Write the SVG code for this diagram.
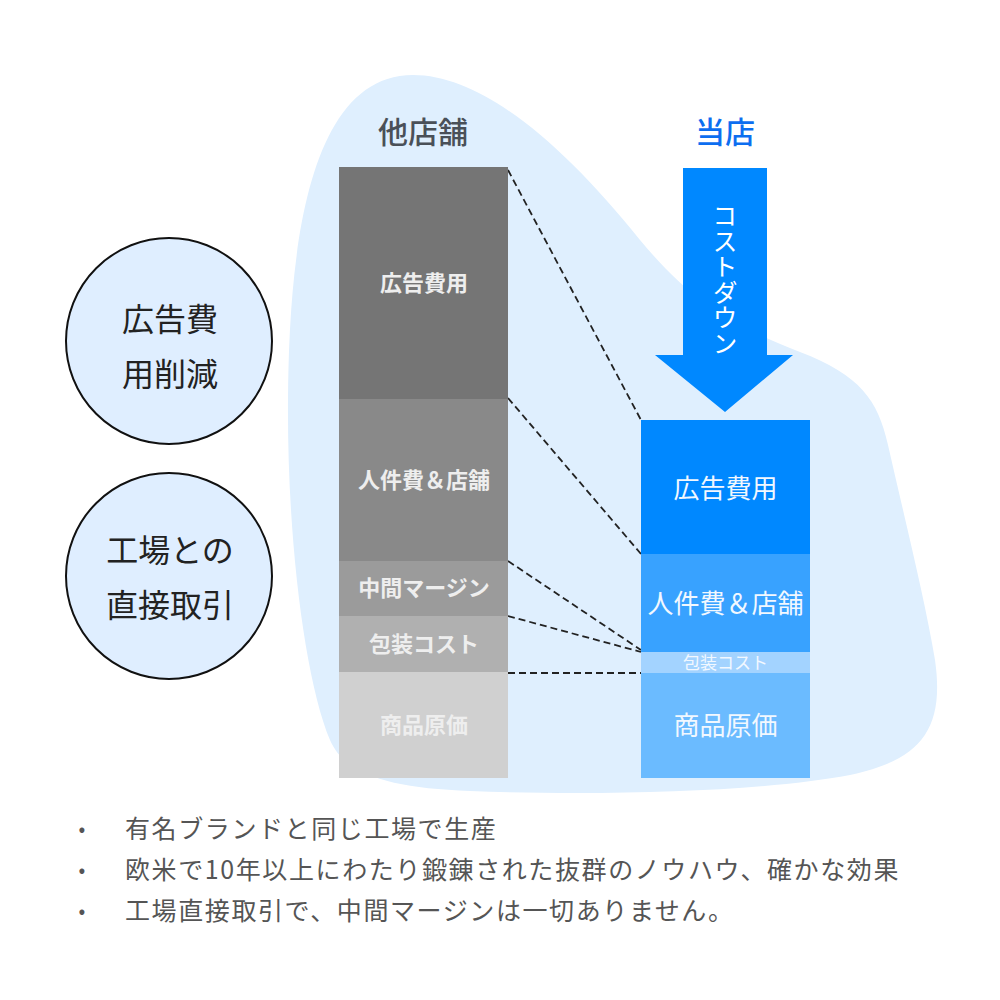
<svg xmlns="http://www.w3.org/2000/svg" width="1000" height="1000" viewBox="0 0 1000 1000">
  <style>
    text { font-family: "Noto Sans CJK JP", "Noto Sans", sans-serif; }
    .title { font-size: 30px; font-weight: 500; text-anchor: middle; }
    .lbl-l { font-size: 22px; font-weight: 700; fill: #eeeeee; text-anchor: middle; }
    .lbl-r { font-size: 26px; font-weight: 400; fill: #f2f8ff; text-anchor: middle; }
    .circ { fill: #dfeeff; stroke: #111111; stroke-width: 2; }
    .circ-t { font-size: 32px; fill: #222222; text-anchor: middle; }
    .dash { stroke: #222222; stroke-width: 1.8; stroke-dasharray: 7 4; fill: none; }
    .note { font-size: 25px; fill: #555555; letter-spacing: 1.6px; }
    .bullet { font-size: 20px; fill: #555555; text-anchor: middle; }
  </style>

  <rect x="0" y="0" width="1000" height="1000" fill="#ffffff"/>

  <!-- background blob -->
  <path id="blob" fill="#dfeffe" d="M 413 75 C 480 75 560 140 640 240 C 690 300 730 325 800 352 C 860 375 878 400 888 445 C 905 520 925 600 935 660 C 945 730 920 760 850 775 C 760 792 600 796 470 791 C 390 788 345 775 330 740 C 305 680 287 540 288 400 C 289 280 300 75 413 75 Z"/>

  <!-- titles -->
  <g id="title-others">
    <text class="title" x="423" y="143" fill="#4a5058">他店舗</text>
  </g>
  <g id="title-ours">
    <text class="title" x="725" y="143" fill="#0d6ef0">当店</text>
  </g>

  <!-- connectors -->
  <g id="connectors">
    <line class="dash" x1="508" y1="170" x2="641" y2="420"/>
    <line class="dash" x1="508" y1="398" x2="641" y2="554"/>
    <line class="dash" x1="508" y1="561" x2="641" y2="650"/>
    <line class="dash" x1="508" y1="616" x2="641" y2="652"/>
    <line class="dash" x1="508" y1="673" x2="641" y2="673"/>
  </g>

  <!-- left bar: other stores -->
  <g id="left-ad">
    <rect x="339" y="167" width="169" height="232" fill="#757575"/>
    <text class="lbl-l" x="424" y="291">広告費用</text>
  </g>
  <g id="left-labor">
    <rect x="339" y="399" width="169" height="162" fill="#898989"/>
    <text class="lbl-l" x="424" y="488">人件費＆店舗</text>
  </g>
  <g id="left-margin">
    <rect x="339" y="561" width="169" height="55" fill="#9b9b9b"/>
    <text class="lbl-l" x="424" y="596">中間マージン</text>
  </g>
  <g id="left-pack">
    <rect x="339" y="616" width="169" height="56" fill="#b0b0b0"/>
    <text class="lbl-l" x="424" y="652">包装コスト</text>
  </g>
  <g id="left-cost">
    <rect x="339" y="672" width="169" height="106" fill="#d0d0d0"/>
    <text class="lbl-l" x="424" y="733">商品原価</text>
  </g>

  <!-- cost down arrow -->
  <g id="arrow">
    <polygon fill="#0088ff" points="683,168 767,168 767,355 793,355 725,412 655,355 683,355"/>
    <text x="725" y="203" font-size="25" fill="#ffffff" writing-mode="vertical-rl" letter-spacing="0.6">コストダウン</text>
  </g>

  <!-- right bar: our store -->
  <g id="right-ad">
    <rect x="641" y="420" width="169" height="134" fill="#0088ff"/>
    <text class="lbl-r" x="725.5" y="498">広告費用</text>
  </g>
  <g id="right-labor">
    <rect x="641" y="554" width="169" height="98" fill="#38a2ff"/>
    <text class="lbl-r" x="725.5" y="613">人件費＆店舗</text>
  </g>
  <g id="right-pack">
    <rect x="641" y="652" width="169" height="21" fill="#a3d3ff"/>
    <text x="725.5" y="669" font-size="17" fill="#f2f8ff" text-anchor="middle">包装コスト</text>
  </g>
  <g id="right-cost">
    <rect x="641" y="673" width="169" height="105" fill="#6bbbff"/>
    <text class="lbl-r" x="725.5" y="735">商品原価</text>
  </g>

  <!-- circles -->
  <g id="circle-ad">
    <circle class="circ" cx="169" cy="341" r="103"/>
    <text class="circ-t" x="170" y="331">広告費</text>
    <text class="circ-t" x="170" y="386">用削減</text>
  </g>
  <g id="circle-factory">
    <circle class="circ" cx="169" cy="576" r="103"/>
    <text class="circ-t" x="170" y="562">工場との</text>
    <text class="circ-t" x="170" y="617">直接取引</text>
  </g>

  <!-- notes -->
  <g id="notes">
    <text class="bullet" x="82" y="836">•</text>
    <text class="note" x="125" y="838">有名ブランドと同じ工場で生産</text>
    <text class="bullet" x="82" y="877">•</text>
    <text class="note" x="125" y="879">欧米で10年以上にわたり鍛錬された抜群のノウハウ、確かな効果</text>
    <text class="bullet" x="82" y="918">•</text>
    <text class="note" x="125" y="920">工場直接取引で、中間マージンは一切ありません。</text>
  </g>
</svg>
